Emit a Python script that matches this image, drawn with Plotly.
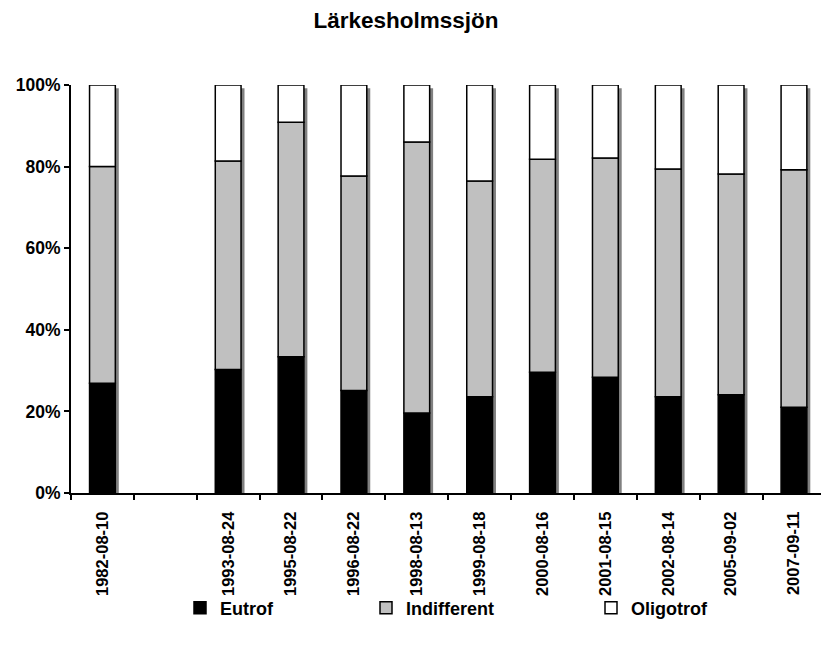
import plotly.graph_objects as go

# ---- data (percent of individuals per trophic class) ----
dates = ["1982-08-10", " ", "1993-08-24", "1995-08-22", "1996-08-22", "1998-08-13",
         "1999-08-18", "2000-08-16", "2001-08-15", "2002-08-14", "2005-09-02", "2007-09-11"]
eutrof = [26.9, None, 30.3, 33.4, 25.1, 19.6, 23.6, 29.6, 28.4, 23.6, 24.1, 21.0]
indifferent = [53.1, None, 51.1, 57.5, 52.6, 66.4, 52.9, 52.2, 53.7, 55.8, 54.1, 58.2]
oligotrof = [20.0, None, 18.6, 9.1, 22.3, 14.0, 23.5, 18.2, 17.9, 20.6, 21.8, 20.8]
y_tickvals = [0, 20, 40, 60, 80, 100]
y_ticktext = ["0%", "20%", "40%", "60%", "80%", "100%"]

title_text = "Lärkesholmssjön"
FONT = "Liberation Sans, Arial, sans-serif"

def add(a, b):
    return [None if x is None else x + y for x, y in zip(a, b)]

base_ind = eutrof
base_oli = add(eutrof, indifferent)
totals = add(base_oli, oligotrof)

BW = 0.41
fig = go.Figure()
# drop shadow behind each column
fig.add_trace(go.Bar(x=dates, y=totals, base=-0.8, width=BW, offset=-BW / 2 + 0.055,
                     marker=dict(color="#808080", line=dict(width=0)),
                     showlegend=False, hoverinfo="skip"))
fig.add_trace(go.Bar(name="Eutrof", x=dates, y=eutrof, base=0, width=BW,
                     marker=dict(color="#000000", line=dict(color="#000000", width=1.5)),
                     legend="legend"))
fig.add_trace(go.Bar(name="Indifferent", x=dates, y=indifferent, base=base_ind, width=BW,
                     marker=dict(color="#c0c0c0", line=dict(color="#000000", width=1.5)),
                     legend="legend2"))
fig.add_trace(go.Bar(name="Oligotrof", x=dates, y=oligotrof, base=base_oli, width=BW,
                     marker=dict(color="#ffffff", line=dict(color="#000000", width=1.5)),
                     legend="legend3"))

leg_common = dict(orientation="h", xref="container", yref="container", yanchor="middle",
                  y=(645 - 608) / 645, xanchor="left", bgcolor="rgba(0,0,0,0)",
                  font=dict(family=FONT, size=18, color="#000000", weight="bold"), itemwidth=30)

fig.update_layout(
    width=821, height=645,
    margin=dict(l=71, r=0, t=85, b=152, autoexpand=False),
    paper_bgcolor="white", plot_bgcolor="white",
    barmode="overlay",
    font=dict(family=FONT, color="#000000"),
    title=dict(text=title_text, x=406 / 821, xanchor="center",
               xref="container", yref="container", y=1 - 20 / 645, yanchor="middle",
               font=dict(family=FONT, size=22.5, color="#000000", weight="bold")),
    xaxis=dict(type="category", categoryorder="array", categoryarray=dates,
               range=[-0.5, 11.43], showline=True, linecolor="#000000", linewidth=2,
               ticks="outside", tickson="boundaries", ticklen=5, tickwidth=2, tickcolor="#000000",
               tickangle=-90, showgrid=False, zeroline=False, automargin=False,
               tickfont=dict(family=FONT, size=16.5, color="#000000", weight="bold"),
               ticklabelstandoff=10),
    yaxis=dict(range=[0, 100], tickmode="array", tickvals=y_tickvals, ticktext=y_ticktext,
               showline=True, linecolor="#000000", linewidth=2, automargin=False,
               ticks="outside", ticklen=5, tickwidth=2, tickcolor="#000000",
               showgrid=False, zeroline=False,
               tickfont=dict(family=FONT, size=17.5, color="#000000", weight="bold")),
    legend=dict(leg_common, x=180 / 821),
    legend2=dict(leg_common, x=366 / 821),
    legend3=dict(leg_common, x=591 / 821),
)

fig.write_html("out.html", config={"displayModeBar": False},
               post_script="document.body.style.margin='0';document.body.style.padding='0';")
